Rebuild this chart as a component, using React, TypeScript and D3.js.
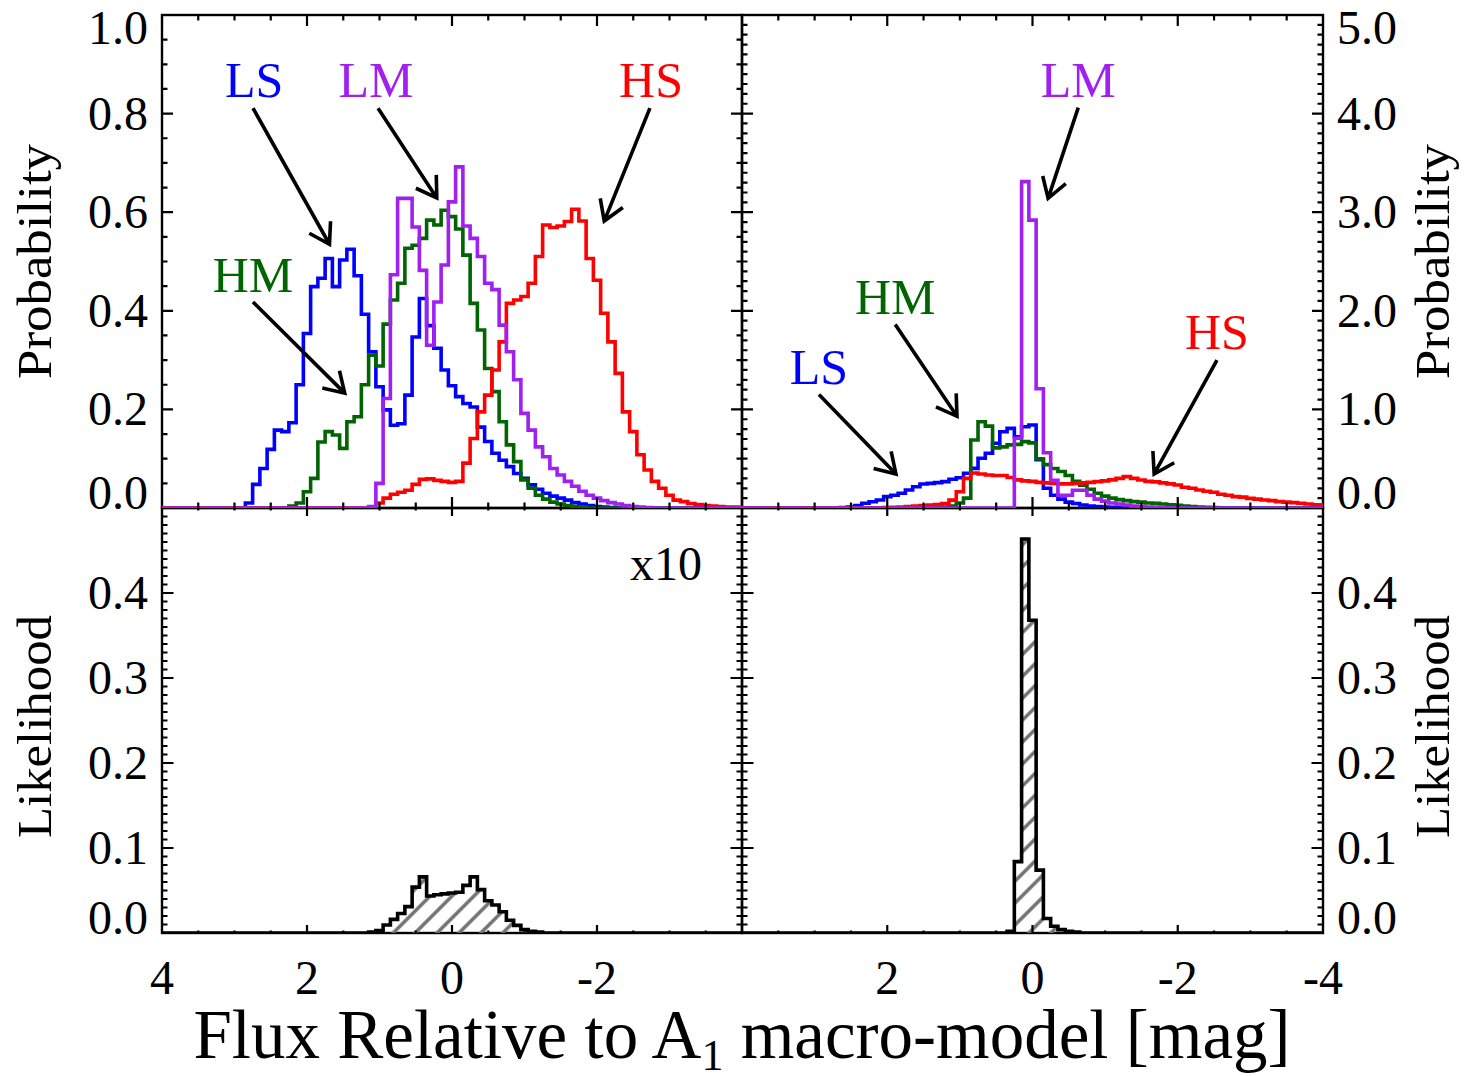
import React from 'react';
import * as d3 from 'd3';

// ---------------- data ----------------
// Histogram bins are 0.1 mag wide, centred on multiples of 0.1; each series lists
// the bin heights starting at the bin centred on its *Start* value and going to smaller mag.
const probLeftLSStart = 2.8;
const probLeftLS = [0.01, 0.048, 0.08, 0.119, 0.158, 0.155, 0.173, 0.25, 0.354, 0.449, 0.466, 0.506, 0.449, 0.503, 0.525, 0.471, 0.393, 0.317, 0.246, 0.199, 0.168, 0.171, 0.229, 0.347, 0.425, 0.37, 0.324, 0.28, 0.248, 0.226, 0.212, 0.205, 0.164, 0.135, 0.111, 0.097, 0.084, 0.07, 0.06, 0.047, 0.038, 0.03, 0.024, 0.02, 0.016, 0.011, 0.008, 0.005, 0.003, 0.002, 0.001];
const probLeftHMStart = 2.2;
const probLeftHM = [0.004, 0.01, 0.033, 0.06, 0.134, 0.155, 0.148, 0.121, 0.175, 0.185, 0.25, 0.31, 0.288, 0.373, 0.422, 0.456, 0.527, 0.533, 0.547, 0.584, 0.574, 0.604, 0.591, 0.566, 0.513, 0.415, 0.361, 0.283, 0.236, 0.175, 0.128, 0.094, 0.057, 0.04, 0.026, 0.018, 0.012, 0.008, 0.005, 0.003, 0.002];
const probLeftHSStart = 1.0;
const probLeftHS = [0.01, 0.02, 0.028, 0.032, 0.036, 0.048, 0.058, 0.059, 0.056, 0.054, 0.052, 0.054, 0.091, 0.141, 0.195, 0.229, 0.28, 0.337, 0.415, 0.422, 0.429, 0.456, 0.51, 0.574, 0.569, 0.572, 0.581, 0.606, 0.582, 0.506, 0.462, 0.395, 0.337, 0.273, 0.195, 0.155, 0.108, 0.077, 0.054, 0.04, 0.026, 0.016, 0.013, 0.009, 0.007, 0.005, 0.004, 0.003, 0.002, 0.002, 0.001];
const probLeftLMStart = 1.1;
const probLeftLM = [0.003, 0.05, 0.222, 0.473, 0.628, 0.628, 0.57, 0.482, 0.33, 0.418, 0.493, 0.621, 0.692, 0.572, 0.547, 0.51, 0.456, 0.443, 0.371, 0.317, 0.26, 0.192, 0.158, 0.124, 0.104, 0.08, 0.067, 0.054, 0.044, 0.034, 0.026, 0.02, 0.015, 0.011, 0.008, 0.005, 0.003, 0.002, 0.001];

const probRightLSStart = 2.6;
const probRightLS = [0.005, 0.01, 0.025, 0.048, 0.064, 0.081, 0.115, 0.13, 0.149, 0.183, 0.216, 0.243, 0.25, 0.257, 0.267, 0.291, 0.307, 0.352, 0.402, 0.504, 0.555, 0.656, 0.774, 0.808, 0.723, 0.824, 0.842, 0.49, 0.2, 0.13, 0.09, 0.06, 0.045, 0.03, 0.02, 0.015, 0.01, 0.007, 0.005, 0.003];
const probRightHMStart = 1.2;
const probRightHM = [0.01, 0.02, 0.05, 0.1, 0.69, 0.875, 0.83, 0.61, 0.62, 0.64, 0.645, 0.673, 0.66, 0.5, 0.44, 0.4, 0.37, 0.33, 0.27, 0.23, 0.19, 0.15, 0.12, 0.1, 0.085, 0.075, 0.065, 0.06, 0.05, 0.047, 0.04, 0.033, 0.027, 0.02, 0.015, 0.01, 0.007, 0.004];
const probRightHSStart = 2.0;
const probRightHS = [0.005, 0.008, 0.01, 0.015, 0.02, 0.025, 0.03, 0.035, 0.045, 0.08, 0.165, 0.3, 0.355, 0.345, 0.335, 0.33, 0.33, 0.31, 0.285, 0.275, 0.27, 0.26, 0.255, 0.25, 0.245, 0.245, 0.25, 0.255, 0.26, 0.267, 0.275, 0.285, 0.3, 0.318, 0.3, 0.284, 0.27, 0.265, 0.255, 0.245, 0.233, 0.21, 0.2, 0.183, 0.17, 0.16, 0.14, 0.13, 0.115, 0.11, 0.098, 0.09, 0.081, 0.075, 0.065, 0.06, 0.055, 0.048, 0.04, 0.033, 0.03];
const probRightLMStart = 0.2;
const probRightLM = [0.707, 3.31, 2.92, 1.21, 0.56, 0.28, 0.13, 0.13, 0.18, 0.18, 0.13, 0.09, 0.07, 0.05, 0.04, 0.03, 0.02, 0.015, 0.01, 0.007, 0.005, 0.003];

const likeLeftStart = 1.1;   // displayed x10
const likeLeft = [0.001, 0.003, 0.0094, 0.016, 0.023, 0.031, 0.054, 0.066, 0.0435, 0.045, 0.046, 0.047, 0.048, 0.056, 0.066, 0.051, 0.038, 0.033, 0.025, 0.015, 0.009, 0.004, 0.002, 0.001];
const likeRightStart = 0.3;
const likeRight = [0.002, 0.084, 0.4635, 0.368, 0.074, 0.017, 0.008, 0.004, 0.002, 0.001];

const xTickValuesLeft = [4, 2, 0, -2];
const xTickLabelsLeft = ['4', '2', '0', '-2'];
const xTickValuesRight = [2, 0, -2, -4];
const xTickLabelsRight = ['2', '0', '-2', '-4'];
const yTicksTopLeft = [0, 0.2, 0.4, 0.6, 0.8, 1.0];
const yTickLabelsTopLeft = ['0.0', '0.2', '0.4', '0.6', '0.8', '1.0'];
const yTicksTopRight = [0, 1, 2, 3, 4, 5];
const yTickLabelsTopRight = ['0.0', '1.0', '2.0', '3.0', '4.0', '5.0'];
const yTicksBottom = [0, 0.1, 0.2, 0.3, 0.4];
const yTickLabelsBottom = ['0.0', '0.1', '0.2', '0.3', '0.4'];

const COLORS: Record<string, string> = { LS: '#0000ff', HM: '#006400', HS: '#ff0000', LM: '#a020f0' };

// annotations in data coordinates: [label, textX, textY, arrowFromX, arrowFromY, arrowToX, arrowToY]
const annTopLeft: [string, number, number, number, number, number, number][] = [
  ['LS', 2.73, 0.834, 2.745, 0.811, 1.69, 0.535],
  ['LM', 1.05, 0.834, 1.02, 0.811, 0.21, 0.629],
  ['HS', -2.745, 0.834, -2.73, 0.811, -2.10, 0.582],
  ['HM', 2.745, 0.438, 2.745, 0.418, 1.48, 0.233],
];
const annTopRight: [string, number, number, number, number, number, number][] = [
  ['LM', -0.63, 4.17, -0.63, 4.06, -0.215, 3.14],
  ['HM', 1.89, 1.97, 1.89, 1.86, 1.04, 0.93],
  ['LS', 2.94, 1.26, 2.94, 1.15, 1.88, 0.345],
  ['HS', -2.54, 1.61, -2.54, 1.50, -1.675, 0.345],
];

// ---------------- layout ----------------
const W = 1465, H = 1076;
const L = 162, M = 742, R = 1323, T = 15, MID = 508, B = 933;
const FONT = '"Liberation Serif", "Times New Roman", serif';
const binWidthConst = 0.1;

const xLeft = d3.scaleLinear().domain([4, -4]).range([L, M]);
const xRight = d3.scaleLinear().domain([4, -4]).range([M, R]);
const yTopL = d3.scaleLinear().domain([0, 1]).range([MID, T]);
const yTopR = d3.scaleLinear().domain([0, 5]).range([MID, T]);
const yBot = d3.scaleLinear().domain([0, 0.5]).range([B, MID]);

type Sc = d3.ScaleLinear<number, number>;

function stepPoints(start: number, vals: number[]): [number, number][] {
  const pts: [number, number][] = [];
  for (let k = 0; k <= 80; k++) {
    const c = 4 - k * binWidthConst;
    const i = Math.round((start - c) / binWidthConst);
    const v = i >= 0 && i < vals.length ? vals[i] : 0;
    pts.push([Math.min(4, c + binWidthConst / 2), v]);
    pts.push([Math.max(-4, c - binWidthConst / 2), v]);
  }
  return pts;
}

function stepPath(x: Sc, y: Sc, start: number, vals: number[]) {
  return d3.line<[number, number]>().x(d => x(d[0])).y(d => y(d[1]))(stepPoints(start, vals)) || '';
}
function stepArea(x: Sc, y: Sc, start: number, vals: number[]) {
  return d3.area<[number, number]>().x(d => x(d[0])).y0(y(0)).y1(d => y(d[1]))(stepPoints(start, vals)) || '';
}

function range(d0: number, d1: number, step: number) {
  const n = Math.round((d1 - d0) / step);
  return d3.range(n + 1).map(k => d0 + k * step);
}
const isMajor = (v: number, s: number) => Math.abs(v / s - Math.round(v / s)) < 1e-6;

function ticksPath(x: Sc, y: Sc, xMinor: number, xMajor: number, xMinLen: number, xMajLen: number,
  yMinor: number, yMajor: number, yMinLen: number, yMajLen: number) {
  const [x0, x1] = x.range();
  const [yb, yt] = y.range();
  let p = '';
  range(-4, 4, xMinor).forEach(v => {
    const X = x(v);
    if (Math.abs(X - x0) < 0.5 || Math.abs(X - x1) < 0.5) return;
    const len = isMajor(v, xMajor) ? xMajLen : xMinLen;
    p += `M${X},${yb}V${yb - len}M${X},${yt}V${yt + len}`;
  });
  const [d0, d1] = y.domain();
  range(d0, d1, yMinor).forEach(v => {
    const Y = y(v);
    if (Math.abs(Y - yb) < 0.5 || Math.abs(Y - yt) < 0.5) return;
    const len = isMajor(v, yMajor) ? yMajLen : yMinLen;
    p += `M${x0},${Y}H${x0 + len}M${x1},${Y}H${x1 - len}`;
  });
  return p;
}

function Arrow({ x1, y1, x2, y2 }: { x1: number; y1: number; x2: number; y2: number }) {
  const a = Math.atan2(y1 - y2, x1 - x2);
  const len = 23, h = (32 * Math.PI) / 180;
  const p = `M${x1},${y1}L${x2},${y2}M${x2 + len * Math.cos(a + h)},${y2 + len * Math.sin(a + h)}L${x2},${y2}L${x2 + len * Math.cos(a - h)},${y2 + len * Math.sin(a - h)}`;
  return <path d={p} fill="none" stroke="#000" strokeWidth={3.6} strokeLinejoin="miter" />;
}

function yLabels(y: Sc, vals: number[], labels: string[], xPos: number, anchor: string) {
  const [yb, yt] = y.range();
  return vals.map((v, i) => {
    let c = y(v);
    c = Math.max(yt + 13, Math.min(yb - 15, c));
    return (
      <text key={labels[i] + xPos + '_' + yb} x={xPos} y={c + 16} fontSize={48} textAnchor={anchor} fontFamily={FONT}>{labels[i]}</text>
    );
  });
}

export default function App() {
  const seriesLeft = [
    { k: 'LS', s: probLeftLSStart, v: probLeftLS },
    { k: 'HM', s: probLeftHMStart, v: probLeftHM },
    { k: 'HS', s: probLeftHSStart, v: probLeftHS },
    { k: 'LM', s: probLeftLMStart, v: probLeftLM },
  ];
  const seriesRight = [
    { k: 'LS', s: probRightLSStart, v: probRightLS },
    { k: 'HM', s: probRightHMStart, v: probRightHM },
    { k: 'HS', s: probRightHSStart, v: probRightHS },
    { k: 'LM', s: probRightLMStart, v: probRightLM },
  ];
  const HW = 15.5;

  return (
    <svg width={W} height={H} style={{ position: 'absolute', left: 0, top: 0, background: '#fff' }} fontFamily={FONT}>
      <defs>
        <clipPath id="cTL"><rect x={L} y={T} width={M - L} height={MID - T} /></clipPath>
        <clipPath id="cTR"><rect x={M} y={T} width={R - M} height={MID - T} /></clipPath>
        <clipPath id="cBL"><rect x={L} y={MID} width={M - L} height={B - MID + 1} /></clipPath>
        <clipPath id="cBR"><rect x={M} y={MID} width={R - M} height={B - MID + 1} /></clipPath>
        <pattern id="hatch" patternUnits="userSpaceOnUse" width={HW} height={HW} patternTransform="rotate(45)">
          <line x1={HW / 2} y1={-1} x2={HW / 2} y2={HW + 1} stroke="#707070" strokeWidth={3.4} />
        </pattern>
      </defs>
      <rect x={0} y={0} width={W} height={H} fill="#fff" />

      {/* frames */}
      <g fill="none" stroke="#000" strokeWidth={2.4}>
        <rect x={L} y={T} width={M - L} height={MID - T} />
        <rect x={M} y={T} width={R - M} height={MID - T} />
        <rect x={L} y={MID} width={M - L} height={B - MID} />
        <rect x={M} y={MID} width={R - M} height={B - MID} />
      </g>

      {/* top-left histograms */}
      <g clipPath="url(#cTL)" fill="none" strokeWidth={3.6}>
        {seriesLeft.map(s => (
          <path key={s.k} d={stepPath(xLeft, yTopL, s.s, s.v)} stroke={COLORS[s.k]} />
        ))}
      </g>
      {/* top-right histograms */}
      <g clipPath="url(#cTR)" fill="none" strokeWidth={3.6}>
        {seriesRight.map(s => (
          <path key={s.k} d={stepPath(xRight, yTopR, s.s, s.v)} stroke={COLORS[s.k]} />
        ))}
      </g>
      {/* bottom likelihoods */}
      <g clipPath="url(#cBL)">
        <path d={stepArea(xLeft, yBot, likeLeftStart, likeLeft)} fill="url(#hatch)" stroke="none" />
        <path d={stepPath(xLeft, yBot, likeLeftStart, likeLeft)} fill="none" stroke="#000" strokeWidth={3.6} />
      </g>
      <g clipPath="url(#cBR)">
        <path d={stepArea(xRight, yBot, likeRightStart, likeRight)} fill="url(#hatch)" stroke="none" />
        <path d={stepPath(xRight, yBot, likeRightStart, likeRight)} fill="none" stroke="#000" strokeWidth={3.6} />
      </g>

      {/* ticks */}
      <g fill="none" stroke="#000" strokeWidth={2.2}>
        <path d={ticksPath(xLeft, yTopL, 0.5, 2, 5.5, 11, 0.05, 0.2, 5.5, 11)} />
        <path d={ticksPath(xRight, yTopR, 0.5, 2, 5.5, 11, 0.1, 1, 5.5, 11)} />
        <path d={ticksPath(xLeft, yBot, 0.5, 2, 2.5, 8, 0.01, 0.1, 5.5, 11.5)} />
        <path d={ticksPath(xRight, yBot, 0.5, 2, 2.5, 8, 0.01, 0.1, 5.5, 11.5)} />
      </g>

      {/* y tick labels */}
      {yLabels(yTopL, yTicksTopLeft, yTickLabelsTopLeft, 148, 'end')}
      {yLabels(yTopR, yTicksTopRight, yTickLabelsTopRight, 1337, 'start')}
      {yLabels(yBot, yTicksBottom, yTickLabelsBottom, 148, 'end')}
      {yLabels(yBot, yTicksBottom, yTickLabelsBottom, 1337, 'start')}

      {/* x tick labels */}
      {xTickValuesLeft.map((v, i) => (
        <text key={'xl' + i} x={xLeft(v)} y={994} fontSize={48} textAnchor="middle">{xTickLabelsLeft[i]}</text>
      ))}
      {xTickValuesRight.map((v, i) => (
        <text key={'xr' + i} x={xRight(v)} y={994} fontSize={48} textAnchor="middle">{xTickLabelsRight[i]}</text>
      ))}

      {/* axis titles */}
      <text transform={`translate(51,${(T + MID) / 2}) rotate(-90)`} fontSize={49} textAnchor="middle" textLength={235} lengthAdjust="spacingAndGlyphs">Probability</text>
      <text transform={`translate(1449,${(T + MID) / 2}) rotate(-90)`} fontSize={49} textAnchor="middle" textLength={235} lengthAdjust="spacingAndGlyphs">Probability</text>
      <text transform={`translate(51,${(MID + B) / 2 + 6}) rotate(-90)`} fontSize={49} textAnchor="middle" textLength={223} lengthAdjust="spacingAndGlyphs">Likelihood</text>
      <text transform={`translate(1449,${(MID + B) / 2 + 6}) rotate(-90)`} fontSize={49} textAnchor="middle" textLength={223} lengthAdjust="spacingAndGlyphs">Likelihood</text>

      <text x={M} y={1058} fontSize={69} textAnchor="middle">
        <tspan>Flux Relative to A</tspan>
        <tspan fontSize={44} dy={12}>1</tspan>
        <tspan dy={-12}> macro-model [mag]</tspan>
      </text>

      {/* annotations */}
      {annTopLeft.map(a => (
        <g key={'al' + a[0]}>
          <text x={xLeft(a[1])} y={yTopL(a[2])} fontSize={50} textAnchor="middle" fill={COLORS[a[0]]}>{a[0]}</text>
          <Arrow x1={xLeft(a[3])} y1={yTopL(a[4])} x2={xLeft(a[5])} y2={yTopL(a[6])} />
        </g>
      ))}
      {annTopRight.map(a => (
        <g key={'ar' + a[0]}>
          <text x={xRight(a[1])} y={yTopR(a[2])} fontSize={50} textAnchor="middle" fill={COLORS[a[0]]}>{a[0]}</text>
          <Arrow x1={xRight(a[3])} y1={yTopR(a[4])} x2={xRight(a[5])} y2={yTopR(a[6])} />
        </g>
      ))}
      <text x={xLeft(-2.95)} y={yBot(0.415)} fontSize={48} textAnchor="middle">x10</text>
    </svg>
  );
}
